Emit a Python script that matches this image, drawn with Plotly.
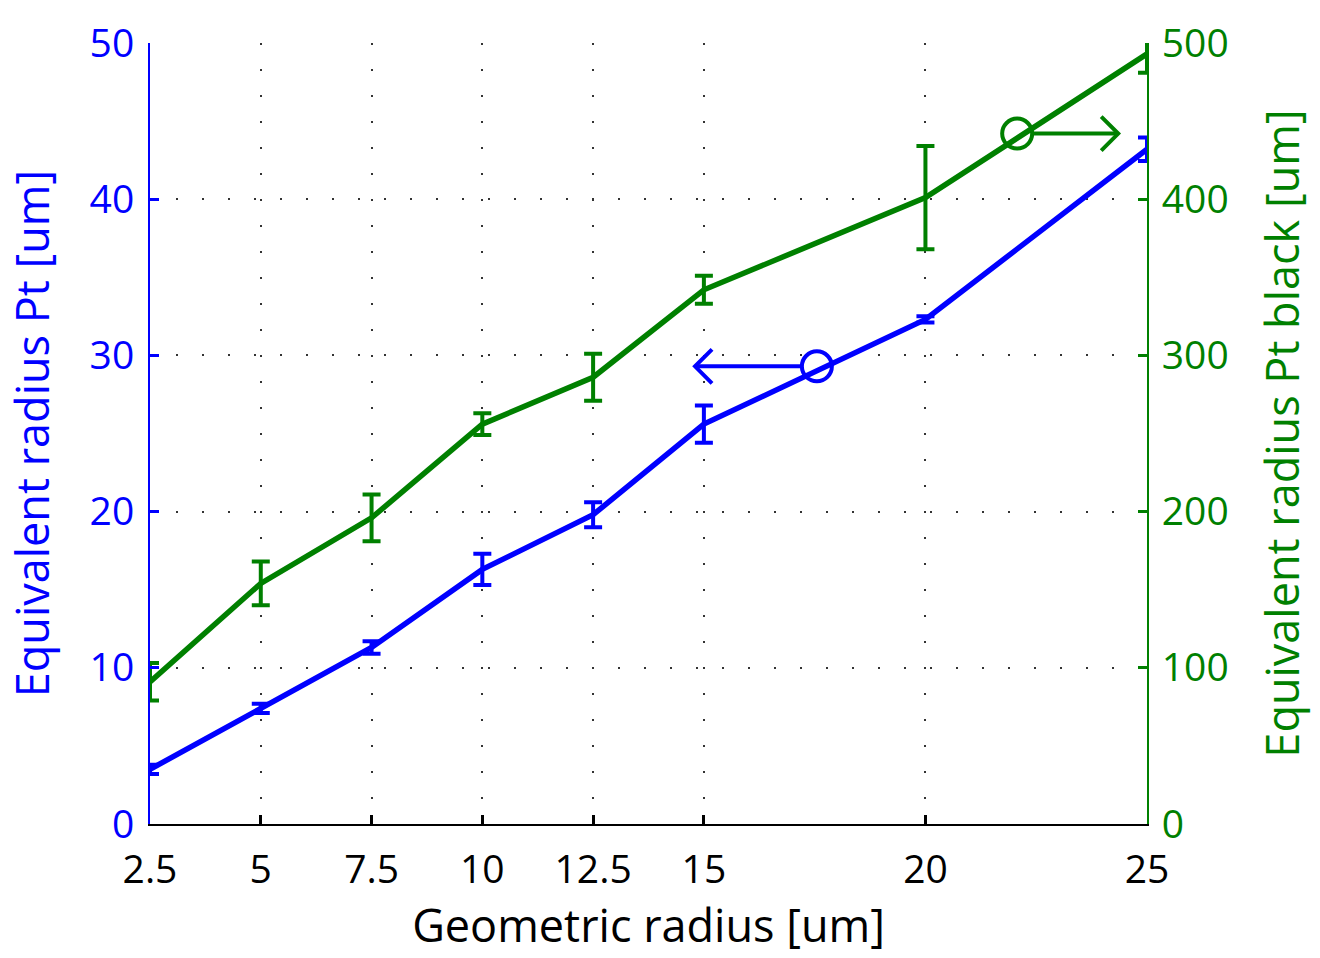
import plotly.graph_objects as go

# Data
geom_radius = [2.5, 5, 7.5, 10, 12.5, 15, 20, 25]
pt_radius = [3.5, 7.4, 11.3, 16.3, 19.8, 25.6, 32.3, 43.2]
pt_err = [0.3, 0.3, 0.4, 1.0, 0.8, 1.2, 0.2, 0.75]
ptblack_radius = [91, 154, 196, 256, 286, 342, 401, 493]
ptblack_err = [12, 14, 15, 7, 15, 9, 33, 12]
x_ticks = [2.5, 5, 7.5, 10, 12.5, 15, 20, 25]
x_ticklabels = ["2.5", "5", "7.5", "10", "12.5", "15", "20", "25"]
y_ticks = [0, 10, 20, 30, 40, 50]
y2_ticks = [0, 100, 200, 300, 400, 500]

# marker annotations (circle + arrow pointing to the axis)
blue_circle = (17.55, 29.3)
blue_arrow_tip = 14.8
green_circle = (22.07, 442)
green_arrow_tip = 24.35

BLUE = "#0000ff"
GREEN = "#008000"
FONT = "Open Sans"
FS = 39
TFS = 45

fig = go.Figure()
fig.add_trace(go.Scatter(
    x=geom_radius, y=ptblack_radius, yaxis="y2", mode="lines",
    line=dict(color=GREEN, width=5.5),
    error_y=dict(type="data", array=ptblack_err, color=GREEN, thickness=4, width=9),
    showlegend=False))
fig.add_trace(go.Scatter(
    x=geom_radius, y=pt_radius, yaxis="y", mode="lines",
    line=dict(color=BLUE, width=5.5),
    error_y=dict(type="data", array=pt_err, color=BLUE, thickness=4, width=9),
    showlegend=False))

shapes = []
R = 15
# blue circle + arrow
shapes.append(dict(type="circle", xref="x", yref="y", xsizemode="pixel", ysizemode="pixel",
                   xanchor=blue_circle[0], yanchor=blue_circle[1],
                   x0=-R, x1=R, y0=-R, y1=R, line=dict(color=BLUE, width=4)))
shapes.append(dict(type="path", xref="x", yref="y", xsizemode="pixel", ysizemode="pixel",
                   xanchor=blue_arrow_tip, yanchor=blue_circle[1],
                   path="M 17 17 L 0 0 L 17 -17", line=dict(color=BLUE, width=4)))
shapes.append(dict(type="line", xref="x", yref="y", x0=blue_arrow_tip, x1=blue_circle[0] - R / 44.3,
                   y0=blue_circle[1], y1=blue_circle[1], line=dict(color=BLUE, width=4)))
# green circle + arrow
shapes.append(dict(type="circle", xref="x", yref="y2", xsizemode="pixel", ysizemode="pixel",
                   xanchor=green_circle[0], yanchor=green_circle[1],
                   x0=-R, x1=R, y0=-R, y1=R, line=dict(color=GREEN, width=4)))
shapes.append(dict(type="path", xref="x", yref="y2", xsizemode="pixel", ysizemode="pixel",
                   xanchor=green_arrow_tip, yanchor=green_circle[1],
                   path="M -17 17 L 0 0 L -17 -17", line=dict(color=GREEN, width=4)))
shapes.append(dict(type="line", xref="x", yref="y2", x0=green_circle[0] + R / 44.3, x1=green_arrow_tip,
                   y0=green_circle[1], y1=green_circle[1], line=dict(color=GREEN, width=4)))

grid = dict(showgrid=True, gridcolor="#333333", gridwidth=2, griddash="2px,24px")

fig.update_layout(
    width=1320, height=958,
    margin=dict(l=150, r=173, t=43, b=134),
    paper_bgcolor="white", plot_bgcolor="white",
    font=dict(family=FONT, size=FS, color="black"),
    shapes=shapes,
    xaxis=dict(range=[2.5, 25], tickvals=x_ticks, ticktext=x_ticklabels,
               ticks="inside", ticklen=9, tickwidth=3, tickcolor="black",
               showline=True, linecolor="black", linewidth=2, zeroline=False,
               ticklabelstandoff=10,
               title=dict(text="Geometric radius [um]", standoff=18, font=dict(size=TFS)),
               tickfont=dict(size=FS, color="black"), **grid),
    yaxis=dict(range=[0, 50], tickvals=y_ticks, ticks="inside", ticklen=9, tickwidth=3,
               tickcolor=BLUE, showline=True, linecolor=BLUE, linewidth=2, zeroline=False,
               ticklabelstandoff=6,
               tickfont=dict(size=FS, color=BLUE),
               title=dict(text="Equivalent radius Pt [um]", font=dict(color=BLUE, size=TFS), standoff=26),
               **grid),
    yaxis2=dict(range=[0, 500], tickvals=y2_ticks, overlaying="y", side="right",
                ticks="inside", ticklen=9, tickwidth=3, tickcolor=GREEN,
                showline=True, linecolor=GREEN, linewidth=2, zeroline=False, showgrid=False,
                ticklabelstandoff=5,
                tickfont=dict(size=FS, color=GREEN),
                title=dict(text="Equivalent radius Pt black [um]", font=dict(color=GREEN, size=TFS), standoff=40)),
)

fig.write_html("out.html")
